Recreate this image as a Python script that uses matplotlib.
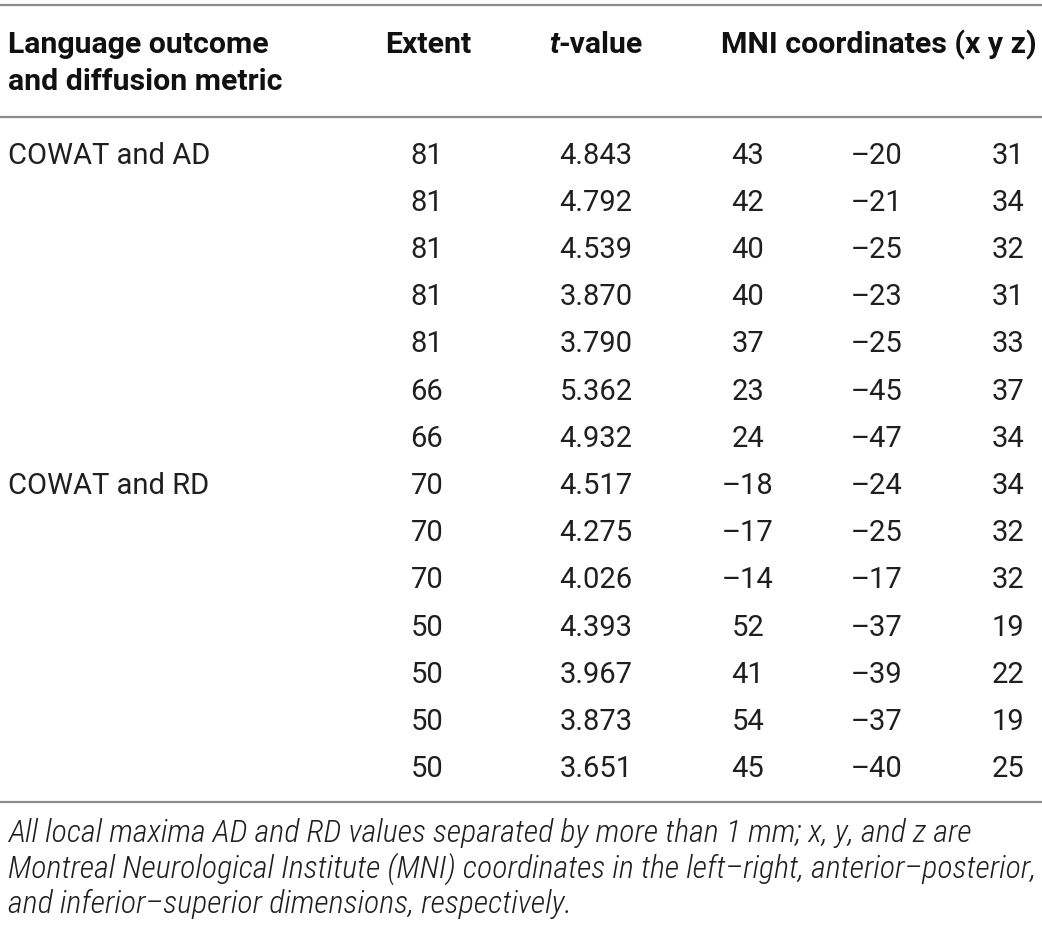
import matplotlib
matplotlib.use("Agg")
import matplotlib.pyplot as plt
from matplotlib import font_manager

# table contents
groups = ["COWAT and AD", "COWAT and RD"]
group_sizes = [7, 7]
extent = [81, 81, 81, 81, 81, 66, 66, 70, 70, 70, 50, 50, 50, 50]
t_value = ["4.843", "4.792", "4.539", "3.870", "3.790", "5.362", "4.932",
           "4.517", "4.275", "4.026", "4.393", "3.967", "3.873", "3.651"]
mni_x = [43, 42, 40, 40, 37, 23, 24, -18, -17, -14, 52, 41, 54, 45]
mni_y = [-20, -21, -25, -23, -25, -45, -47, -24, -25, -17, -37, -39, -37, -40]
mni_z = [31, 34, 32, 31, 33, 37, 34, 34, 32, 32, 19, 22, 19, 25]
footnote = ["All local maxima AD and RD values separated by more than 1 mm; x, y, and z are",
            "Montreal Neurological Institute (MNI) coordinates in the left\u2013right, anterior\u2013posterior,",
            "and inferior\u2013superior dimensions, respectively."]

names = {f.name for f in font_manager.fontManager.ttflist}
base = "Roboto" if "Roboto" in names else "Liberation Sans"
body_w = 400
narrow = next((n for n in ["Roboto Condensed", "Archivo Narrow", "DejaVu Sans"] if n in names), "DejaVu Sans")
narrow_kw = dict(family=narrow, style="italic")
if narrow == "DejaVu Sans":
    narrow_kw["stretch"] = "condensed"
elif narrow == "Roboto Condensed":
    narrow_kw["weight"] = 300


def num(v):
    return str(v).replace("-", "\u2013")


W, H = 1042, 926
fig = plt.figure(figsize=(W / 100, H / 100), dpi=100)
ax = fig.add_axes([0, 0, 1, 1])
ax.set_xlim(0, W)
ax.set_ylim(H, 0)
ax.axis("off")
rend = fig.canvas.get_renderer()


def width(s, **kw):
    t = ax.text(0, 0, s, fontsize=20, **kw)
    w = t.get_window_extent(rend).width
    t.remove()
    return w


def fit(s, target, **kw):
    return 20 * target / width(s, **kw)


txt = "#1f1f1f"
line_col = "#8c8c8c"

fs = fit("COWAT and AD", 202, family=base, weight=body_w)
fsb = fit("MNI coordinates (x y z)", 315, family=base, weight="bold")
fsf = fit(footnote[1], 1027, **narrow_kw)

# rules
for yy in [5, 117, 802]:
    ax.plot([0, W], [yy, yy], color=line_col, lw=1.6, solid_capstyle="butt")

# header
hk = dict(fontsize=fsb, fontweight="bold", color="#111111", family=base, va="baseline")
ax.text(8, 53, "Language outcome", ha="left", **hk)
ax.text(8, 90, "and diffusion metric", ha="left", **hk)
ax.text(428, 53, "Extent", ha="center", **hk)
wt = width("t", family=base, weight="bold", style="italic") * fsb / 20
wv = width("-value", family=base, weight="bold") * fsb / 20
x_t = 596 - (wt + wv) / 2
ax.text(x_t, 53, "t", ha="left", style="italic", **hk)
ax.text(x_t + wt, 53, "-value", ha="left", **hk)
ax.text(721, 53, "MNI coordinates (x y z)", ha="left", **hk)

# data rows
y0, dy = 163.5, 47.2
dk = dict(fontsize=fs, color=txt, family=base, weight=body_w, va="baseline")
row = 0
for g, n in zip(groups, group_sizes):
    ax.text(8, y0 + row * dy, g, ha="left", **dk)
    row += n
for i in range(len(extent)):
    yy = y0 + i * dy
    ax.text(427, yy, str(extent[i]), ha="center", **dk)
    ax.text(596, yy, t_value[i], ha="center", **dk)
    ax.text(748, yy, num(mni_x[i]), ha="center", **dk)
    ax.text(877, yy, num(mni_y[i]), ha="center", **dk)
    ax.text(1008, yy, num(mni_z[i]), ha="center", **dk)

# footnote
fk = dict(fontsize=fsf, color=txt, va="baseline", ha="left", **narrow_kw)
for k, line in enumerate(footnote):
    ax.text(8, 842 + k * 35.5, line, **fk)

fig.savefig("out.png", dpi=100)
